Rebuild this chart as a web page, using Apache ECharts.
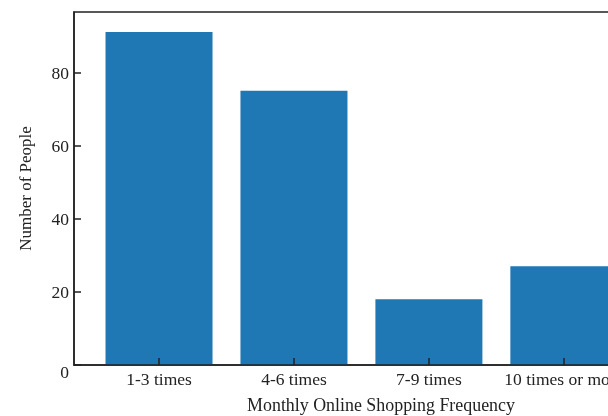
<!DOCTYPE html>
<html>
<head>
<meta charset="utf-8">
<script src="https://cdn.jsdelivr.net/npm/echarts@6/dist/echarts.min.js"></script>
<style>
html,body{margin:0;padding:0;background:#fff;}
#chart{width:608px;height:416px;}
</style>
</head>
<body>
<div id="chart"></div>
<script>
const categories = ['1-3 times', '4-6 times', '7-9 times', '10 times or more'];
const peopleCounts = [91, 75, 18, 27];
const yTickValues = [0, 20, 40, 60, 80];
const xAxisTitle = 'Monthly Online Shopping Frequency';
const yAxisTitle = 'Number of People';

const positions = categories.map((c, i) => i);
const barData = positions.map((p, i) => [p, peopleCounts[i]]);

const font = 'Liberation Serif';
const textColor = '#222';
const lineColor = '#222';

const chart = echarts.init(document.getElementById('chart'), null, {renderer: 'canvas'});
chart.setOption({
  animation: false,
  backgroundColor: '#fff',
  grid: {
    left: 74, top: 12, bottom: 51, right: -80,
    containLabel: false,
    outerBoundsMode: 'none',
    show: true,
    borderColor: lineColor,
    borderWidth: 1.5,
    backgroundColor: 'transparent'
  },
  xAxis: {
    type: 'value',
    min: -0.63,
    max: 3.92,
    z: 10,
    name: xAxisTitle,
    nameLocation: 'middle',
    nameGap: 32,
    nameTextStyle: {fontFamily: font, fontSize: 17.9, color: textColor},
    splitLine: {show: false},
    axisLine: {show: true, onZero: false, lineStyle: {color: lineColor, width: 1.5}},
    axisTick: {show: true, inside: true, length: 7, customValues: positions, lineStyle: {color: lineColor, width: 1.5}},
    axisLabel: {
      customValues: positions,
      margin: 6,
      fontFamily: font, fontSize: 17.5, color: textColor,
      formatter: v => categories[Math.round(v)] || ''
    }
  },
  yAxis: {
    type: 'value',
    min: 0,
    max: 96.5,
    z: 10,
    name: yAxisTitle,
    nameLocation: 'middle',
    nameGap: 39,
    nameTextStyle: {fontFamily: font, fontSize: 17, color: textColor},
    splitLine: {show: false},
    axisLine: {show: true, onZero: false, lineStyle: {color: lineColor, width: 1.5}},
    axisTick: {show: true, inside: true, length: 7, customValues: yTickValues, lineStyle: {color: lineColor, width: 1.5}},
    axisLabel: {
      customValues: yTickValues,
      margin: 5,
      fontFamily: font, fontSize: 17.5, color: textColor,
      formatter: v => v === 0 ? '{zero|0}' : '{n|' + v + '}',
      rich: {
        zero: {fontFamily: font, fontSize: 17.5, color: textColor, padding: [17, 0, 0, 0]},
        n: {fontFamily: font, fontSize: 17.5, color: textColor, padding: [4, 0, 0, 0]}
      }
    }
  },
  series: [{
    type: 'bar',
    data: barData,
    barWidth: 107,
    z: 2,
    itemStyle: {color: '#1f77b4'},
    silent: true
  }]
});
</script>
</body>
</html>
